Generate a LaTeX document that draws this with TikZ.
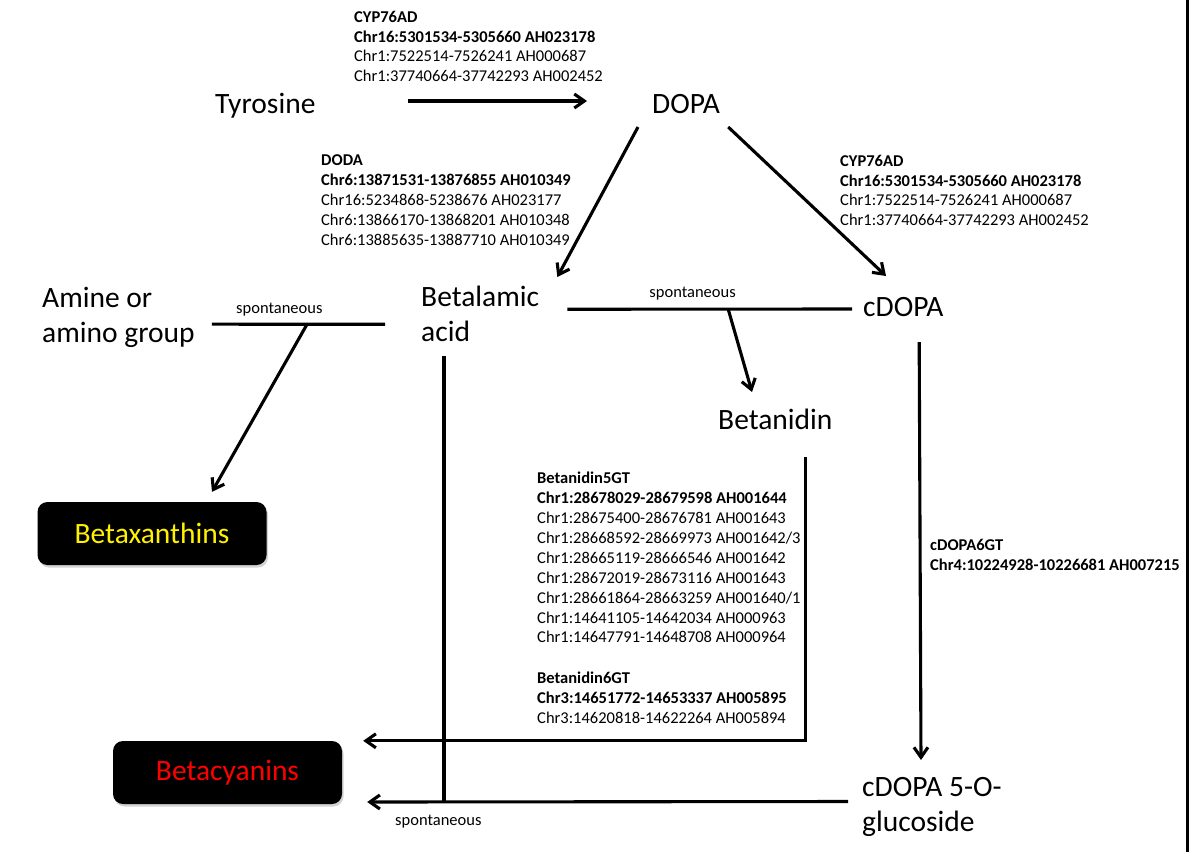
\documentclass[tikz,border=0pt]{standalone}
\usepackage{fontspec}
\setmainfont{Carlito}
\usetikzlibrary{arrows.meta,shadows}

\newcommand\compoundfont{\fontsize{29.5}{35}\selectfont}
\newcommand\genefont{\fontsize{16.5}{19.9}\selectfont}
\newcommand\spontfont{\fontsize{16.5}{19.9}\selectfont}

\begin{document}
\begin{tikzpicture}[
  x=1pt, y=-1pt,
  reaction/.style={line width=3.1pt, -{Straight Barb[length=10pt,width=14pt]}},
  plain line/.style={line width=3.1pt},
  compound/.style={inner sep=0pt, align=left, font=\compoundfont},
  genes/.style={inner sep=0pt, align=left, anchor=north west, font=\genefont},
  pigment/.style={fill=black, rounded corners=10pt, minimum width=229pt, minimum height=63pt,
    font=\compoundfont, drop shadow={shadow xshift=1.5pt, shadow yshift=-2.5pt, opacity=.35}},
  spont/.style={font=\spontfont, inner sep=2pt}
  ]
  \useasboundingbox (0,0) rectangle (1189,852);
  \fill (1185.8,0) rectangle (1188.6,852);

  % compounds
  \node[compound, anchor=base west] (tyr) at (215,113) {Tyrosine};
  \node[compound, anchor=base west] (dopa) at (652,113) {DOPA};
  \node[compound, anchor=north west] (amine) at (42,286.5) {Amine or\\amino group};
  \node[compound, anchor=north west] (bet) at (421,285.5) {Betalamic\\acid};
  \node[compound, anchor=base west] (cdopa) at (863,316) {cDOPA};
  \node[compound, anchor=base west] (betanidin) at (718,429) {Betanidin};
  \node[compound, anchor=north west] (gluc) at (862,777.5) {cDOPA 5-O-\\glucoside};

  \node[pigment, text=yellow] (bx) at (152,533.5) {Betaxanthins};
  \node[pigment, text=red] (bc) at (227.5,772.5) {Betacyanins};

  % enzymes and loci
  \node[genes] (cyp top) at (354,10.7) {\bfseries CYP76AD\\\bfseries Chr16:5301534-5305660 AH023178\\Chr1:7522514-7526241 AH000687\\Chr1:37740664-37742293 AH002452};
  \node[genes] (doda) at (321,154.7) {\bfseries DODA\\\bfseries Chr6:13871531-13876855 AH010349\\Chr16:5234868-5238676 AH023177\\Chr6:13866170-13868201 AH010348\\Chr6:13885635-13887710 AH010349};
  \node[genes] (cyp right) at (840,154.7) {\bfseries CYP76AD\\\bfseries Chr16:5301534-5305660 AH023178\\Chr1:7522514-7526241 AH000687\\Chr1:37740664-37742293 AH002452};
  \node[genes] (gt5) at (537,472) {\bfseries Betanidin5GT\\\bfseries Chr1:28678029-28679598 AH001644\\Chr1:28675400-28676781 AH001643\\Chr1:28668592-28669973 AH001642/3\\Chr1:28665119-28666546 AH001642\\Chr1:28672019-28673116 AH001643\\Chr1:28661864-28663259 AH001640/1\\Chr1:14641105-14642034 AH000963\\Chr1:14647791-14648708 AH000964};
  \node[genes] (gt6) at (537,672) {\bfseries Betanidin6GT\\\bfseries Chr3:14651772-14653337 AH005895\\Chr3:14620818-14622264 AH005894};
  \node[genes] (gt cdopa) at (930,539.5) {\bfseries cDOPA6GT\\\bfseries Chr4:10224928-10226681 AH007215};

  % reactions
  \draw[reaction] ([shift={(92pt,12pt)}]tyr.base east) -- ([shift={(-65pt,12pt)}]dopa.base west);
  \draw[reaction] ([shift={(-14pt,-14pt)}]dopa.base west) -- ([shift={(18pt,8.5pt)}]bet.north east);
  \draw[reaction] ([shift={(8pt,-14pt)}]dopa.base east) -- ([shift={(23pt,40pt)}]cdopa.base west);

  \draw[plain line] ([shift={(17pt,-7.3pt)}]amine.east) -- node[spont, above=5pt, pos=.39] {spontaneous}
    coordinate[pos=.55] (spont left) ([shift={(-36pt,-10.7pt)}]bet.west);
  \draw[reaction] (spont left) -- ([shift={(60pt,10pt)}]bx.north);

  \draw[plain line] ([shift={(28pt,4.3pt)}]bet.east) -- node[spont, above=5pt, pos=.44] {spontaneous}
    coordinate[pos=.565] (spont right) ([shift={(-11pt,7pt)}]cdopa.base west);
  \draw[reaction] (spont right) -- ([shift={(34pt,37pt)}]betanidin.base west);

  \draw[reaction] ([shift={(-24.5pt,-26pt)}]cdopa.base east) -- ([shift={(59pt,17.5pt)}]gluc.north west);
  \draw[reaction] ([shift={(-27pt,-28pt)}]betanidin.base east) |- ([shift={(21pt,0pt)}]bc.north east);

  \draw[reaction] ([shift={(-14pt,5.8pt)}]gluc.west) coordinate (gluc out) -- node[spont, below=10pt, pos=.852] {spontaneous}
    ([shift={(25pt,-29.5pt)}]bc.east);
  \coordinate (bet down) at ([shift={(23pt,-14pt)}]bet.south west);
  \draw[plain line] (bet down) -- (bet down |- gluc out);
\end{tikzpicture}
\end{document}
